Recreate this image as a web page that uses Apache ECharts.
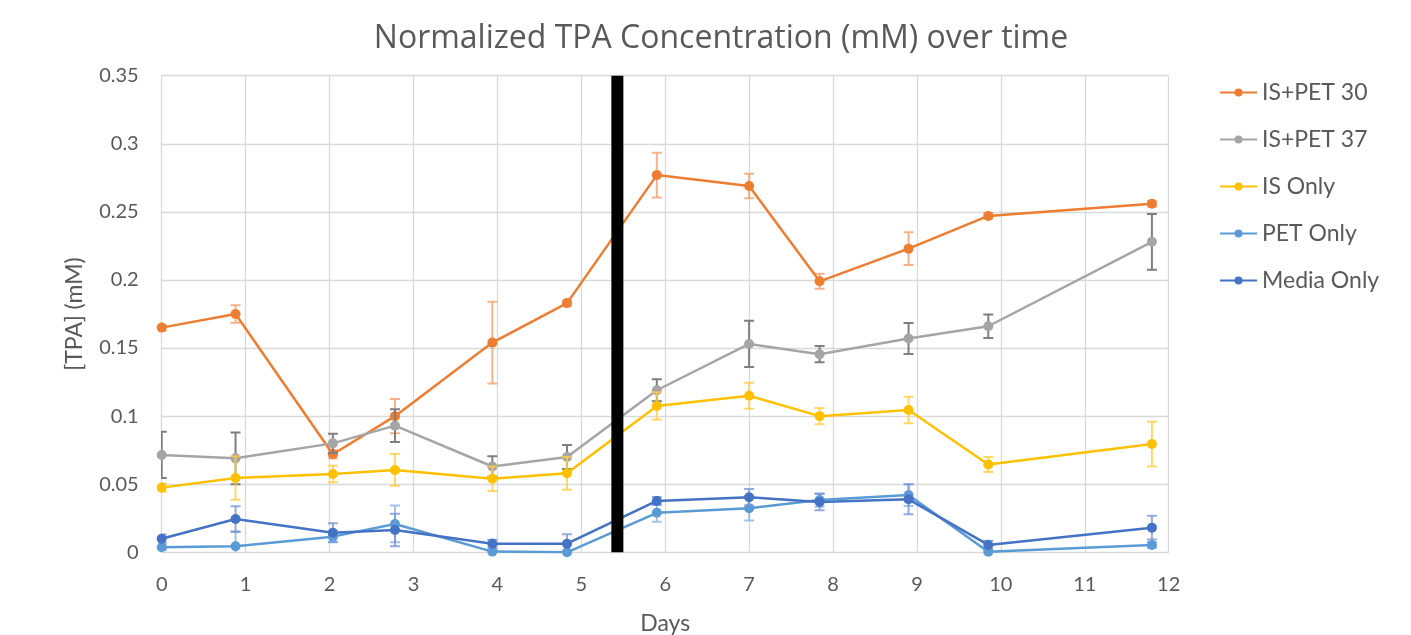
<!DOCTYPE html>
<html>
<head>
<meta charset="utf-8">
<title>Normalized TPA Concentration</title>
<script src="https://cdn.jsdelivr.net/npm/echarts@6/dist/echarts.min.js"></script>
<style>
	html,body{ margin:0; padding:0; background:#fff;}
	#mainBox{ width:1411px; height:635px;}
</style>
</head>
<body>
<div id="mainBox"></div>
<script>
// sampling days (x) shared by all series
var days=[0,0.88,2.04,2.78,3.94,4.83,5.9,7.0,7.84,8.9,9.85,11.8];
var dividerDay=5.43;

var is30=[0.165,0.175,0.072,0.100,0.154,0.183,0.277,0.269,0.199,0.223,0.247,0.256];
var is30Err=[0.002,0.0065,0.003,0.0125,0.030,0.002,0.0165,0.009,0.0055,0.012,0.002,0.002];
var is37=[0.0715,0.069,0.080,0.093,0.063,0.070,0.119,0.153,0.1455,0.157,0.166,0.228];
var is37Err=[0.017,0.019,0.007,0.012,0.0075,0.0088,0.008,0.017,0.006,0.0113,0.0086,0.0205];
var isOnly=[0.0475,0.0545,0.0575,0.0605,0.054,0.058,0.1075,0.115,0.100,0.1045,0.0645,0.0795];
var isOnlyErr=[0.003,0.016,0.006,0.0116,0.009,0.012,0.010,0.0095,0.006,0.0098,0.0055,0.0164];
var petOnly=[0.0037,0.0044,0.0115,0.0208,0.0005,0,0.029,0.0323,0.0384,0.042,0.0004,0.0054];
var petOnlyErr=[0.002,0.011,0.004,0.0135,0.001,0.001,0.0066,0.009,0.005,0.008,0.001,0.002];
var mediaOnly=[0.010,0.0244,0.0144,0.0164,0.0063,0.0063,0.0377,0.0404,0.0369,0.0389,0.0054,0.0181];
var mediaOnlyErr=[0.003,0.0095,0.007,0.012,0.003,0.007,0.003,0.006,0.006,0.011,0.003,0.0087];

var names=['IS+PET 30','IS+PET 37','IS Only','PET Only','Media Only'];
var colors=['#ED7D31','#A5A5A5','#FFC000','#5B9BD5','#4472C4'];
var errColors=['rgba(244,160,110,0.8)','#7F7F7F','rgba(255,205,70,0.8)','rgba(150,190,230,0.9)','rgba(120,150,215,0.8)'];
var values=[is30,is37,isOnly,petOnly,mediaOnly];
var errs=[is30Err,is37Err,isOnlyErr,petOnlyErr,mediaOnlyErr];

var font='Lato';
var txtColor='#595959';

var errRender=function(color){
	return function(params,api){
		var x=api.value(0),y=api.value(1),e=api.value(2);
		var hi=api.coord([x,y+e]);
		var lo=api.coord([x,y-e]);
		var cw=5;
		var st={stroke:color,lineWidth:2};
		return {type:'group',children:[
			{type:'line',shape:{x1:hi[0],y1:hi[1],x2:lo[0],y2:lo[1]},style:st},
			{type:'line',shape:{x1:hi[0]-cw,y1:hi[1],x2:hi[0]+cw,y2:hi[1]},style:st},
			{type:'line',shape:{x1:lo[0]-cw,y1:lo[1],x2:lo[0]+cw,y2:lo[1]},style:st}
		]};
	};
};

var series=[];
for(var i=0;i<names.length;i++){
	var pts=[],eb=[];
	for(var j=0;j<days.length;j++){
		pts.push([days[j],values[i][j]]);
		eb.push([days[j],values[i][j],errs[i][j]]);
	}
	series.push({
		type:'custom',
		name:names[i]+' err',
		renderItem:errRender(errColors[i]),
		data:eb,
		encode:{x:0,y:1},
		clip:true,
		silent:true,
		z:2+i*2
	});
	series.push({
		type:'line',
		name:names[i],
		data:pts,
		symbol:'circle',
		symbolSize:10,
		lineStyle:{color:colors[i],width:2.5},
		itemStyle:{color:colors[i]},
		z:3+i*2
	});
}
// black vertical divider
series.push({
	type:'line',
	name:'divider',
	data:[[dividerDay,0],[dividerDay,0.35]],
	showSymbol:false,
	lineStyle:{color:'#000',width:12,cap:'butt'},
	silent:true,
	z:20
});

var myChart=echarts.init(document.getElementById('mainBox'));
myChart.setOption({
	animation:false,
	backgroundColor:'#fff',
	title:{
		text:'Normalized TPA Concentration (mM) over time',
		left:716,
		top:18,
		textAlign:'center',
		textStyle:{fontFamily:'Open Sans',fontSize:32,fontWeight:'normal',color:txtColor}
	},
	legend:{
		data:names,
		orient:'vertical',
		left:1214,
		top:76,
		itemWidth:37,
		itemHeight:10,
		itemGap:24,
		textStyle:{fontFamily:font,fontSize:23,color:txtColor,lineHeight:23}
	},
	grid:{left:161.7,right:242.3,top:75.7,bottom:82.7,containLabel:false,outerBoundsMode:'none'},
	xAxis:{
		type:'value',
		min:0,max:12,interval:1,
		name:'Days',
		nameLocation:'middle',
		nameGap:60,
		nameTextStyle:{fontFamily:font,fontSize:23,color:txtColor},
		axisLine:{show:true,lineStyle:{color:'#D9D9D9',width:1}},
		axisTick:{show:false},
		axisLabel:{fontFamily:font,fontSize:20,color:txtColor,margin:22},
		splitLine:{show:true,lineStyle:{color:'#D9D9D9',width:1.3}}
	},
	yAxis:{
		type:'value',
		min:0,max:0.35,interval:0.05,
		name:'[TPA] (mM)',
		nameLocation:'middle',
		nameGap:76,
		nameTextStyle:{fontFamily:font,fontSize:23,color:txtColor},
		axisLine:{show:true,lineStyle:{color:'#D9D9D9',width:1}},
		axisTick:{show:false},
		axisLabel:{fontFamily:font,fontSize:20,color:txtColor,margin:23,
			formatter:function(v){return String(+v.toFixed(2));}},
		splitLine:{show:true,lineStyle:{color:'#D9D9D9',width:1.3}}
	},
	series:series
});
</script>
</body>
</html>
